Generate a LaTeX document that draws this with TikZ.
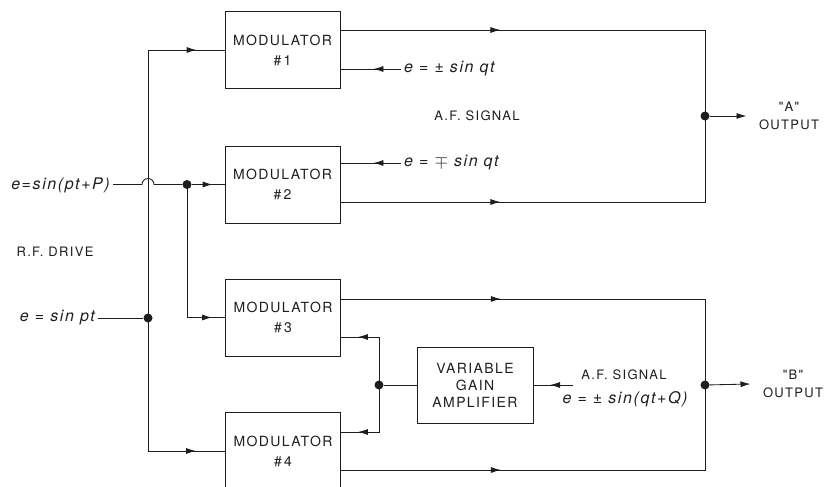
\documentclass[tikz,border=0pt]{standalone}
\usepackage{fontspec}
\usepackage{tikz}
\usetikzlibrary{positioning,arrows.meta,calc,decorations.markings}
\newfontfamily\capsfont[LetterSpace=10]{TeX Gyre Heros}
\newfontfamily\eqnfont[LetterSpace=10]{TeX Gyre Heros}
\definecolor{InkDark}{HTML}{1E1E1E}

\begin{document}
\begin{tikzpicture}[x=1pt,y=-1pt,
    every node/.style={text=InkDark},
    wire/.style={draw=InkDark,line width=0.85pt},
    flow/.style={postaction={decorate},decoration={markings,
      mark=at position #1 with {\arrow{Latex[length=10pt,width=6pt]}}}},
    outarr/.style={-{Latex[length=10pt,width=6pt]}},
    modbox/.style={draw=InkDark,line width=0.85pt,minimum width=115pt,
      minimum height=77pt,align=center,inner sep=0pt,
      font=\capsfont\fontsize{14}{20}\selectfont},
    caps/.style={align=center,font=\capsfont\fontsize{13}{18}\selectfont},
    eqn/.style={font=\eqnfont\itshape\fontsize{16}{18}\selectfont,inner sep=3pt},
    junction/.style={circle,fill=InkDark,inner sep=0pt,minimum size=9pt}]
  \useasboundingbox (0,0) rectangle (828,487);
  \clip (0,0) rectangle (828,487);

  % blocks
  \node[modbox] (m1) at (282.5,50) {MODULATOR\\\#\,1};
  \node[modbox] (m2) at (282.5,184.5) {MODULATOR\\\#\,2};
  \node[modbox] (m3) at (283,317.5) {MODULATOR\\\#\,3};
  \node[modbox] (m4) at (283,451) {MODULATOR\\\#\,4};
  \node[modbox,minimum width=116pt,minimum height=76pt,
    font=\capsfont\fontsize{14}{17}\selectfont] (amp) at (475,385)
    {VARIABLE\\GAIN\\AMPLIFIER};

  % labels
  \node[eqn,anchor=east] (inP) at (113,185) {e=sin(pt+P)};
  \node[eqn,anchor=east] (inQ) at (98,318) {e = sin pt};
  \node[caps] (rf) at (55,252) {R.F. DRIVE};
  \node[caps] (afA) at (477,116) {A.F. SIGNAL};
  \node[eqn,anchor=west] (qa) at (401,69) {e = ± sin qt};
  \node[eqn,anchor=west] (qb) at (401,163) {e = $\mp$ sin qt};
  \node[caps] (afB) at (624,375) {A.F. SIGNAL};
  \node[eqn] (qc) at (625,399) {e = ± sin(qt+Q)};
  \node[caps] (outA) at (789,116) {"A"\\OUTPUT};
  \node[caps] (outB) at (793,384) {"B"\\OUTPUT};

  % junctions
  \node[junction] (jA) at (148,318) {};
  \node[junction] (jB) at (187,184.5) {};
  \node[junction] (jC) at (379,385) {};
  \node[junction] (jOA) at (705,116) {};
  \node[junction] (jOB) at (705,385) {};

  % R.F. drive
  \draw[wire] (inQ.east) -- (jA);
  \draw[wire,flow=-28pt] (jA.center) |- (m1.west);
  \draw[wire,flow=-29pt] (jA.center) |- (m4.west);
  \draw[wire] (inP.east |- jB) -- ($(jA.center|-jB)+(-6,0)$)
    arc[start angle=180,end angle=360,radius=6] -- (jB);
  \draw[wire,flow=-12pt] (jB) -- (m2.west);
  \draw[wire,flow=-13pt] (jB.center) |- (m3.west);

  % A.F. signals
  \coordinate (afin) at (573,385);
  \draw[wire,flow=-33pt] (qa.west) -- (qa.west -| m1.east);
  \draw[wire,flow=-33pt] (qb.west) -- (qb.west -| m2.east);
  \draw[wire,flow=23pt] (afin) -- (amp.east);
  \draw[wire] (jC) -- (amp.west);
  \draw[wire,flow=-17pt] (jC.center) |- ($(m3.east)+(0,19.5)$);
  \draw[wire,flow=-17pt] (jC.center) |- ($(m4.east)+(0,-19)$);

  % outputs
  \draw[wire,flow=160pt] ($(m1.east)+(0,-20)$) -| (jOA.center);
  \draw[wire,flow=160pt] ($(m2.east)+(0,17.5)$) -| (jOA.center);
  \draw[wire,flow=160pt] ($(m3.east)+(0,-18.5)$) -| (jOB.center);
  \draw[wire,flow=160pt] ($(m4.east)+(0,19)$) -| (jOB.center);
  \draw[wire,outarr] (jOA) -- ($(outA.west)+(-9,0)$);
  \draw[wire,outarr] (jOB) -- ($(outB.west)+(-9,0)$);
\end{tikzpicture}
\end{document}
